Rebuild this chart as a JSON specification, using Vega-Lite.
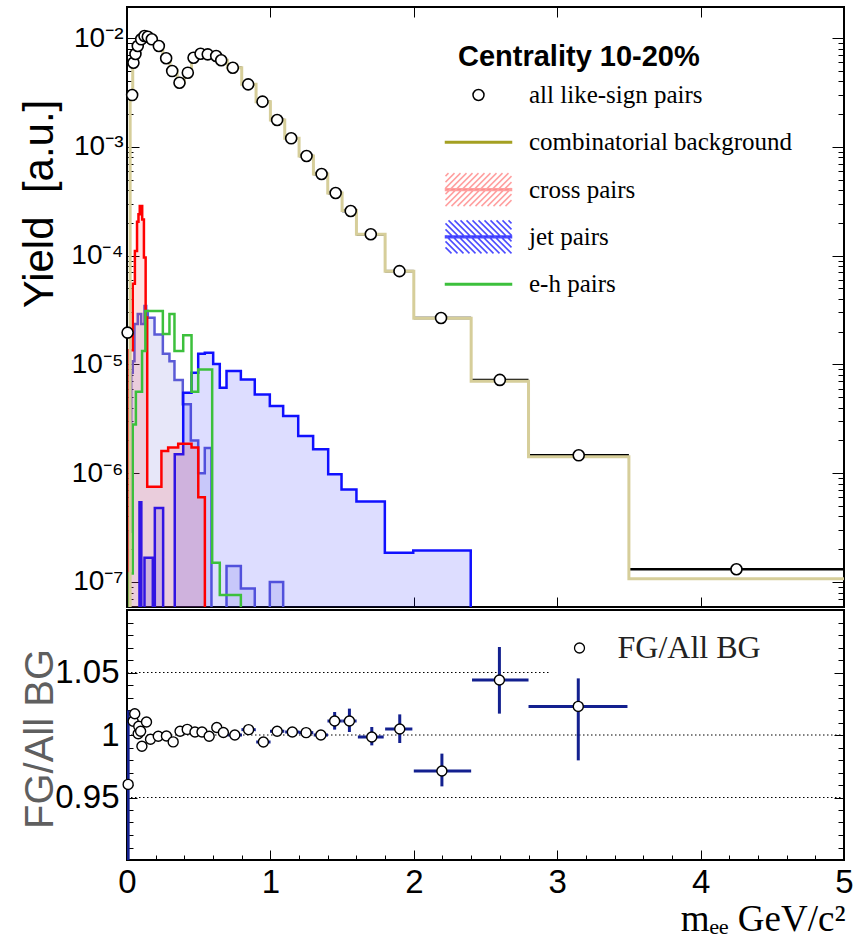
{
  "$schema": "https://vega.github.io/schema/vega-lite/v6.json",
  "padding": {"left": 17, "top": 5, "right": 12, "bottom": 0},
  "spacing": 3,
  "bounds": "flush",
  "config": {
    "font": "Liberation Sans",
    "view": {"stroke": "black", "strokeWidth": 2},
    "axis": {"domain": false, "grid": false, "tickColor": "black", "tickWidth": 1, "labelColor": "black", "titleColor": "black", "labelFont": "Liberation Sans", "titleFont": "Liberation Sans", "titleFontWeight": "normal", "labelOverlap": false, "labelFlush": false, "labelBound": false}
  },
  "resolve": {"scale": {"stroke": "independent", "fill": "independent", "shape": "independent"}, "legend": {"stroke": "independent", "fill": "independent", "shape": "independent"}},
  "datasets": {
    "pts": [
      {"m": 0.004, "lo": 0.0, "hi": 0.01, "v": 1.96e-5, "series": "all like-sign pairs"},
      {"m": 0.036, "lo": 0.022, "hi": 0.04, "v": 2.99e-3, "series": "all like-sign pairs"},
      {"m": 0.045, "lo": 0.04, "hi": 0.052, "v": 5.93e-3, "series": "all like-sign pairs"},
      {"m": 0.059, "lo": 0.052, "hi": 0.066, "v": 7.13e-3, "series": "all like-sign pairs"},
      {"m": 0.075, "lo": 0.066, "hi": 0.085, "v": 8.44e-3, "series": "all like-sign pairs"},
      {"m": 0.099, "lo": 0.085, "hi": 0.11, "v": 9.73e-3, "series": "all like-sign pairs"},
      {"m": 0.122, "lo": 0.11, "hi": 0.135, "v": 1.043e-2, "series": "all like-sign pairs"},
      {"m": 0.145, "lo": 0.135, "hi": 0.16, "v": 1.028e-2, "series": "all like-sign pairs"},
      {"m": 0.173, "lo": 0.16, "hi": 0.2, "v": 9.73e-3, "series": "all like-sign pairs"},
      {"m": 0.222, "lo": 0.2, "hi": 0.25, "v": 8.44e-3, "series": "all like-sign pairs"},
      {"m": 0.273, "lo": 0.25, "hi": 0.3, "v": 6.51e-3, "series": "all like-sign pairs"},
      {"m": 0.315, "lo": 0.3, "hi": 0.35, "v": 4.97e-3, "series": "all like-sign pairs"},
      {"m": 0.366, "lo": 0.35, "hi": 0.4, "v": 3.88e-3, "series": "all like-sign pairs"},
      {"m": 0.424, "lo": 0.4, "hi": 0.45, "v": 4.80e-3, "series": "all like-sign pairs"},
      {"m": 0.464, "lo": 0.45, "hi": 0.5, "v": 6.59e-3, "series": "all like-sign pairs"},
      {"m": 0.513, "lo": 0.5, "hi": 0.55, "v": 7.17e-3, "series": "all like-sign pairs"},
      {"m": 0.563, "lo": 0.55, "hi": 0.6, "v": 7.08e-3, "series": "all like-sign pairs"},
      {"m": 0.622, "lo": 0.6, "hi": 0.65, "v": 6.83e-3, "series": "all like-sign pairs"},
      {"m": 0.657, "lo": 0.65, "hi": 0.7, "v": 6.24e-3, "series": "all like-sign pairs"},
      {"m": 0.738, "lo": 0.7, "hi": 0.8, "v": 5.33e-3, "series": "all like-sign pairs"},
      {"m": 0.845, "lo": 0.8, "hi": 0.9, "v": 3.75e-3, "series": "all like-sign pairs"},
      {"m": 0.945, "lo": 0.9, "hi": 1.0, "v": 2.60e-3, "series": "all like-sign pairs"},
      {"m": 1.047, "lo": 1.0, "hi": 1.1, "v": 1.763e-3, "series": "all like-sign pairs"},
      {"m": 1.145, "lo": 1.1, "hi": 1.2, "v": 1.197e-3, "series": "all like-sign pairs"},
      {"m": 1.252, "lo": 1.2, "hi": 1.3, "v": 8.23e-4, "series": "all like-sign pairs"},
      {"m": 1.357, "lo": 1.3, "hi": 1.4, "v": 5.62e-4, "series": "all like-sign pairs"},
      {"m": 1.455, "lo": 1.4, "hi": 1.5, "v": 3.76e-4, "series": "all like-sign pairs"},
      {"m": 1.56, "lo": 1.5, "hi": 1.6, "v": 2.57e-4, "series": "all like-sign pairs"},
      {"m": 1.70, "lo": 1.6, "hi": 1.8, "v": 1.57e-4, "series": "all like-sign pairs"},
      {"m": 1.90, "lo": 1.8, "hi": 2.0, "v": 7.2e-5, "series": "all like-sign pairs"},
      {"m": 2.19, "lo": 2.0, "hi": 2.4, "v": 2.67e-5, "series": "all like-sign pairs"},
      {"m": 2.60, "lo": 2.4, "hi": 2.8, "v": 7.2e-6, "series": "all like-sign pairs"},
      {"m": 3.15, "lo": 2.8, "hi": 3.5, "v": 1.46e-6, "series": "all like-sign pairs"},
      {"m": 4.25, "lo": 3.5, "hi": 5.0, "v": 1.31e-7, "series": "all like-sign pairs"}
    ],
    "bg": [
      {"m": 0.0, "v": 1e-9}, {"m": 0.022, "v": 2.99e-3}, {"m": 0.04, "v": 5.93e-3}, {"m": 0.052, "v": 7.13e-3},
      {"m": 0.066, "v": 8.44e-3}, {"m": 0.085, "v": 9.73e-3}, {"m": 0.11, "v": 1.043e-2}, {"m": 0.135, "v": 1.028e-2},
      {"m": 0.16, "v": 9.73e-3}, {"m": 0.2, "v": 8.44e-3}, {"m": 0.25, "v": 6.51e-3}, {"m": 0.3, "v": 4.97e-3},
      {"m": 0.35, "v": 3.88e-3}, {"m": 0.4, "v": 4.80e-3}, {"m": 0.45, "v": 6.59e-3}, {"m": 0.5, "v": 7.17e-3},
      {"m": 0.55, "v": 7.08e-3}, {"m": 0.6, "v": 6.83e-3}, {"m": 0.65, "v": 6.24e-3}, {"m": 0.7, "v": 5.33e-3},
      {"m": 0.8, "v": 3.75e-3}, {"m": 0.9, "v": 2.6e-3}, {"m": 1.0, "v": 1.763e-3}, {"m": 1.1, "v": 1.197e-3},
      {"m": 1.2, "v": 8.23e-4}, {"m": 1.3, "v": 5.62e-4}, {"m": 1.4, "v": 3.76e-4}, {"m": 1.5, "v": 2.6e-4},
      {"m": 1.6, "v": 1.57e-4}, {"m": 1.8, "v": 7.2e-5}, {"m": 2.0, "v": 2.65e-5}, {"m": 2.4, "v": 7.0e-6},
      {"m": 2.8, "v": 1.42e-6}, {"m": 3.5, "v": 1.07e-7}, {"m": 5.0, "v": 1.07e-7}
    ],
    "cross": [
      {"m": 0.0, "v": 1e-9}, {"m": 0.017, "v": 1.35e-5}, {"m": 0.04, "v": 5.5e-5}, {"m": 0.055, "v": 1.1e-4},
      {"m": 0.07, "v": 2.05e-4}, {"m": 0.08, "v": 2.4e-4}, {"m": 0.089, "v": 2.85e-4}, {"m": 0.106, "v": 2.15e-4},
      {"m": 0.118, "v": 9.6e-5}, {"m": 0.13, "v": 2.7e-5}, {"m": 0.141, "v": 7.5e-7}, {"m": 0.24, "v": 1.6e-6},
      {"m": 0.287, "v": 1.72e-6}, {"m": 0.357, "v": 1.86e-6}, {"m": 0.45, "v": 1.72e-6}, {"m": 0.497, "v": 6.0e-7},
      {"m": 0.543, "v": 1e-9}, {"m": 0.6, "v": 1e-9}
    ],
    "jetA": [
      {"m": 0.0, "v": 1e-9}, {"m": 0.017, "v": 2.9e-7}, {"m": 0.029, "v": 8.4e-6}, {"m": 0.04, "v": 1.07e-5},
      {"m": 0.052, "v": 2.35e-5}, {"m": 0.075, "v": 2.9e-5}, {"m": 0.099, "v": 2.35e-5}, {"m": 0.122, "v": 3.44e-5},
      {"m": 0.134, "v": 3.1e-5}, {"m": 0.145, "v": 2.69e-5}, {"m": 0.192, "v": 1.88e-5}, {"m": 0.25, "v": 1.25e-5},
      {"m": 0.296, "v": 1.07e-5}, {"m": 0.331, "v": 7.2e-6}, {"m": 0.389, "v": 4.3e-6}, {"m": 0.445, "v": 2.0e-6},
      {"m": 0.4965, "v": 1.0e-6}, {"m": 0.5425, "v": 1.7e-6}, {"m": 0.589, "v": 1e-9}, {"m": 0.694, "v": 1.4e-7},
      {"m": 0.794, "v": 8.7e-8}, {"m": 0.891, "v": 1e-9}, {"m": 0.996, "v": 1.0e-7}, {"m": 1.089, "v": 1e-9},
      {"m": 1.2, "v": 1e-9}
    ],
    "jetB": [
      {"m": 0.0, "v": 1e-9}, {"m": 0.087, "v": 5.4e-7}, {"m": 0.1, "v": 1e-9}, {"m": 0.122, "v": 1.67e-7},
      {"m": 0.18, "v": 1e-9}, {"m": 0.194, "v": 4.8e-7}, {"m": 0.252, "v": 1e-9}, {"m": 0.333, "v": 1.49e-6},
      {"m": 0.392, "v": 5.5e-6}, {"m": 0.45, "v": 8.4e-6}, {"m": 0.4965, "v": 1.25e-5}, {"m": 0.5425, "v": 1.28e-5},
      {"m": 0.601, "v": 1.01e-5}, {"m": 0.647, "v": 6.1e-6}, {"m": 0.694, "v": 8.7e-6}, {"m": 0.794, "v": 7.25e-6},
      {"m": 0.891, "v": 5.3e-6}, {"m": 0.996, "v": 4.15e-6}, {"m": 1.089, "v": 3.36e-6}, {"m": 1.194, "v": 2.2e-6},
      {"m": 1.298, "v": 1.66e-6}, {"m": 1.403, "v": 9.8e-7}, {"m": 1.496, "v": 7.1e-7}, {"m": 1.6, "v": 5.5e-7},
      {"m": 1.798, "v": 1.86e-7}, {"m": 1.996, "v": 1.95e-7}, {"m": 2.397, "v": 1e-9}, {"m": 2.5, "v": 1e-9}
    ],
    "eh": [
      {"m": 0.0, "v": 1e-9}, {"m": 0.017, "v": 1.2e-7}, {"m": 0.04, "v": 2.8e-6}, {"m": 0.062, "v": 5.6e-6},
      {"m": 0.105, "v": 1.33e-5}, {"m": 0.128, "v": 3.1e-5}, {"m": 0.25, "v": 1.9e-5}, {"m": 0.296, "v": 2.9e-5},
      {"m": 0.331, "v": 1.33e-5}, {"m": 0.392, "v": 1.85e-5}, {"m": 0.45, "v": 5.6e-6}, {"m": 0.4965, "v": 9.0e-6},
      {"m": 0.594, "v": 1.5e-7}, {"m": 0.647, "v": 7.6e-8}, {"m": 0.794, "v": 1e-9}, {"m": 0.85, "v": 1e-9}
    ],
    "ratio": [
      {"m": 0.008, "lo": 0.0, "hi": 0.016, "r": 0.9605, "rl": 0.85, "rh": 1.0197, "series": "FG/All BG"},
      {"m": 0.043, "lo": 0.037, "hi": 0.049, "r": 1.011, "rl": 1.008, "rh": 1.014, "series": "FG/All BG"},
      {"m": 0.054, "lo": 0.048, "hi": 0.06, "r": 1.017, "rl": 1.013, "rh": 1.021, "series": "FG/All BG"},
      {"m": 0.078, "lo": 0.072, "hi": 0.084, "r": 1.001, "rl": 0.999, "rh": 1.003, "series": "FG/All BG"},
      {"m": 0.082, "lo": 0.076, "hi": 0.088, "r": 1.007, "rl": 1.005, "rh": 1.009, "series": "FG/All BG"},
      {"m": 0.095, "lo": 0.089, "hi": 0.101, "r": 1.003, "rl": 1.001, "rh": 1.005, "series": "FG/All BG"},
      {"m": 0.104, "lo": 0.098, "hi": 0.11, "r": 0.991, "rl": 0.989, "rh": 0.993, "series": "FG/All BG"},
      {"m": 0.136, "lo": 0.125, "hi": 0.147, "r": 1.0104, "rl": 1.008, "rh": 1.013, "series": "FG/All BG"},
      {"m": 0.164, "lo": 0.15, "hi": 0.178, "r": 0.9966, "rl": 0.9945, "rh": 0.9987, "series": "FG/All BG"},
      {"m": 0.218, "lo": 0.195, "hi": 0.241, "r": 0.999, "rl": 0.997, "rh": 1.001, "series": "FG/All BG"},
      {"m": 0.275, "lo": 0.25, "hi": 0.3, "r": 0.9992, "rl": 0.997, "rh": 1.0014, "series": "FG/All BG"},
      {"m": 0.322, "lo": 0.297, "hi": 0.347, "r": 0.9945, "rl": 0.9925, "rh": 0.9965, "series": "FG/All BG"},
      {"m": 0.37, "lo": 0.345, "hi": 0.395, "r": 1.003, "rl": 1.001, "rh": 1.005, "series": "FG/All BG"},
      {"m": 0.42, "lo": 0.395, "hi": 0.445, "r": 1.0045, "rl": 1.0025, "rh": 1.0065, "series": "FG/All BG"},
      {"m": 0.474, "lo": 0.449, "hi": 0.499, "r": 1.0024, "rl": 1.0004, "rh": 1.0044, "series": "FG/All BG"},
      {"m": 0.523, "lo": 0.498, "hi": 0.548, "r": 1.0024, "rl": 1.0004, "rh": 1.0044, "series": "FG/All BG"},
      {"m": 0.573, "lo": 0.548, "hi": 0.598, "r": 0.999, "rl": 0.997, "rh": 1.001, "series": "FG/All BG"},
      {"m": 0.626, "lo": 0.601, "hi": 0.651, "r": 1.006, "rl": 1.004, "rh": 1.008, "series": "FG/All BG"},
      {"m": 0.672, "lo": 0.647, "hi": 0.697, "r": 1.002, "rl": 1.0, "rh": 1.004, "series": "FG/All BG"},
      {"m": 0.752, "lo": 0.702, "hi": 0.802, "r": 1.0, "rl": 0.9975, "rh": 1.0025, "series": "FG/All BG"},
      {"m": 0.848, "lo": 0.798, "hi": 0.898, "r": 1.0043, "rl": 1.0018, "rh": 1.0068, "series": "FG/All BG"},
      {"m": 0.951, "lo": 0.901, "hi": 1.001, "r": 0.9944, "rl": 0.9915, "rh": 0.9973, "series": "FG/All BG"},
      {"m": 1.047, "lo": 0.997, "hi": 1.097, "r": 1.003, "rl": 1.0, "rh": 1.006, "series": "FG/All BG"},
      {"m": 1.153, "lo": 1.103, "hi": 1.203, "r": 1.0024, "rl": 0.9994, "rh": 1.0054, "series": "FG/All BG"},
      {"m": 1.249, "lo": 1.199, "hi": 1.299, "r": 1.0019, "rl": 0.9985, "rh": 1.0053, "series": "FG/All BG"},
      {"m": 1.352, "lo": 1.302, "hi": 1.402, "r": 1.0, "rl": 0.9962, "rh": 1.0038, "series": "FG/All BG"},
      {"m": 1.448, "lo": 1.398, "hi": 1.498, "r": 1.0112, "rl": 1.0043, "rh": 1.0184, "series": "FG/All BG"},
      {"m": 1.551, "lo": 1.501, "hi": 1.601, "r": 1.0112, "rl": 1.0024, "rh": 1.0211, "series": "FG/All BG"},
      {"m": 1.707, "lo": 1.61, "hi": 1.79, "r": 0.9984, "rl": 0.9917, "rh": 1.0064, "series": "FG/All BG"},
      {"m": 1.902, "lo": 1.8, "hi": 1.99, "r": 1.0048, "rl": 0.9936, "rh": 1.0165, "series": "FG/All BG"},
      {"m": 2.196, "lo": 2.0, "hi": 2.4, "r": 0.9712, "rl": 0.9589, "rh": 0.9851, "series": "FG/All BG"},
      {"m": 2.597, "lo": 2.406, "hi": 2.8, "r": 1.044, "rl": 1.0171, "rh": 1.0704, "series": "FG/All BG"},
      {"m": 3.147, "lo": 2.8, "hi": 3.49, "r": 1.0229, "rl": 0.9797, "rh": 1.0453, "series": "FG/All BG"}
    ],
    "grid": [
      {"g": 1.05, "a": 0, "b": 2.95},
      {"g": 1.0, "a": 0, "b": 5},
      {"g": 0.95, "a": 0, "b": 5}
    ]
  },
  "vconcat": [
    {
      "width": 717,
      "height": 600,
      "resolve": {"axis": {"x": "independent", "y": "independent"}},
      "layer": [
        {
          "data": {"name": "jetA"},
          "mark": {"type": "area", "interpolate": "step-after", "clip": true, "fill": "#5b5bd6", "fillOpacity": 0.15, "stroke": "#5b5bd6", "strokeWidth": 2.5},
          "encoding": {
            "x": {"field": "m", "type": "quantitative", "scale": {"domain": [0, 5], "nice": false, "zero": false}, "axis": null},
            "y": {"field": "v", "type": "quantitative", "scale": {"type": "log", "domain": [5.89e-8, 0.01928], "nice": false}, "axis": null},
            "y2": {"datum": 1e-10}
          }
        },
        {
          "data": {"name": "jetB"},
          "mark": {"type": "area", "interpolate": "step-after", "clip": true, "fill": "#1a1aff", "fillOpacity": 0.15, "stroke": "#1010ff", "strokeWidth": 2.5},
          "encoding": {
            "x": {"field": "m", "type": "quantitative", "scale": {"domain": [0, 5], "nice": false, "zero": false}, "axis": null},
            "y": {"field": "v", "type": "quantitative", "scale": {"type": "log", "domain": [5.89e-8, 0.01928], "nice": false}, "axis": null},
            "y2": {"datum": 1e-10}
          }
        },
        {
          "data": {"name": "cross"},
          "mark": {"type": "area", "interpolate": "step-after", "clip": true, "fill": "#ff3030", "fillOpacity": 0.14, "stroke": "#ff0000", "strokeWidth": 2.5},
          "encoding": {
            "x": {"field": "m", "type": "quantitative", "scale": {"domain": [0, 5], "nice": false, "zero": false}, "axis": null},
            "y": {"field": "v", "type": "quantitative", "scale": {"type": "log", "domain": [5.89e-8, 0.01928], "nice": false}, "axis": null},
            "y2": {"datum": 1e-10}
          }
        },
        {
          "data": {"name": "eh"},
          "mark": {"type": "line", "interpolate": "step-after", "clip": true, "color": "#3cc03c", "strokeWidth": 2.5},
          "encoding": {
            "x": {"field": "m", "type": "quantitative", "scale": {"domain": [0, 5], "nice": false, "zero": false}, "axis": null},
            "y": {"field": "v", "type": "quantitative", "scale": {"type": "log", "domain": [5.89e-8, 0.01928], "nice": false}, "axis": null}
          }
        },
        {
          "data": {"name": "pts"},
          "mark": {"type": "rule", "clip": true, "color": "black", "strokeWidth": 2.5},
          "encoding": {
            "x": {"field": "lo", "type": "quantitative", "scale": {"domain": [0, 5], "nice": false, "zero": false}, "axis": null},
            "x2": {"field": "hi"},
            "y": {"field": "v", "type": "quantitative", "scale": {"type": "log", "domain": [5.89e-8, 0.01928], "nice": false}, "axis": null}
          }
        },
        {
          "data": {"name": "bg"},
          "mark": {"type": "line", "interpolate": "step-after", "clip": true, "color": "#d6ce9a", "strokeWidth": 3},
          "encoding": {
            "x": {"field": "m", "type": "quantitative", "scale": {"domain": [0, 5], "nice": false, "zero": false},
              "axis": {"orient": "top", "values": [0, 1, 2, 3, 4, 5], "labels": false, "tickSize": -10, "title": null}},
            "y": {"field": "v", "type": "quantitative", "scale": {"type": "log", "domain": [5.89e-8, 0.01928], "nice": false},
              "axis": {"orient": "right", "labels": false, "title": null,
                "values": [6e-8, 7e-8, 8e-8, 9e-8, 1e-7, 2e-7, 3e-7, 4e-7, 5e-7, 6e-7, 7e-7, 8e-7, 9e-7, 1e-6, 2e-6, 3e-6, 4e-6, 5e-6, 6e-6, 7e-6, 8e-6, 9e-6, 1e-5, 2e-5, 3e-5, 4e-5, 5e-5, 6e-5, 7e-5, 8e-5, 9e-5, 1e-4, 2e-4, 3e-4, 4e-4, 5e-4, 6e-4, 7e-4, 8e-4, 9e-4, 1e-3, 2e-3, 3e-3, 4e-3, 5e-3, 6e-3, 7e-3, 8e-3, 9e-3, 1e-2],
                "tickSize": {"condition": {"test": "abs(log(datum.value)/LN10 - round(log(datum.value)/LN10)) < 1e-6", "value": -12}, "value": -6}}}
          }
        },
        {
          "data": {"name": "pts"},
          "mark": {"type": "point", "shape": "circle", "filled": true, "fill": "white", "stroke": "black", "size": 121, "strokeWidth": 1.6, "opacity": 1},
          "encoding": {
            "x": {"field": "m", "type": "quantitative", "scale": {"domain": [0, 5], "nice": false, "zero": false},
              "axis": {"orient": "bottom", "values": [0, 1, 2, 3, 4, 5], "labels": false, "tickSize": -10, "title": null}},
            "y": {"field": "v", "type": "quantitative", "scale": {"type": "log", "domain": [5.89e-8, 0.01928], "nice": false},
              "axis": {"orient": "left",
                "values": [6e-8, 7e-8, 8e-8, 9e-8, 1e-7, 2e-7, 3e-7, 4e-7, 5e-7, 6e-7, 7e-7, 8e-7, 9e-7, 1e-6, 2e-6, 3e-6, 4e-6, 5e-6, 6e-6, 7e-6, 8e-6, 9e-6, 1e-5, 2e-5, 3e-5, 4e-5, 5e-5, 6e-5, 7e-5, 8e-5, 9e-5, 1e-4, 2e-4, 3e-4, 4e-4, 5e-4, 6e-4, 7e-4, 8e-4, 9e-4, 1e-3, 2e-3, 3e-3, 4e-3, 5e-3, 6e-3, 7e-3, 8e-3, 9e-3, 1e-2],
                "labelExpr": "abs(log(datum.value)/LN10 - round(log(datum.value)/LN10)) < 1e-6 ? '10⁻' + ['⁰','¹','²','³','⁴','⁵','⁶','⁷','⁸','⁹'][-round(log(datum.value)/LN10)] : ''",
                "labelFontSize": 28, "labelPadding": 16, "labelAlign": "right", "labelBaseline": "middle",
                "tickSize": {"condition": {"test": "abs(log(datum.value)/LN10 - round(log(datum.value)/LN10)) < 1e-6", "value": -12}, "value": -6},
                "title": "Yield\u00a0 [a.u.]", "titleFontSize": 42, "titleAngle": 270, "titleX": -88, "titleY": 196.5, "titleAlign": "center", "titleBaseline": "middle"}}
          }
        },
        {
          "data": {"name": "pts"},
          "transform": [{"filter": "false"}],
          "mark": {"type": "point", "filled": true, "opacity": 1},
          "encoding": {
            "x": {"field": "m", "type": "quantitative", "scale": {"domain": [0, 5], "nice": false, "zero": false}, "axis": null},
            "y": {"field": "v", "type": "quantitative", "scale": {"type": "log", "domain": [5.89e-8, 0.01928], "nice": false}, "axis": null},
            "fill": {"field": "series", "type": "nominal",
              "scale": {"domain": ["all like-sign pairs", "combinatorial background", "cross pairs", "jet pairs", "e-h pairs"], "range": ["white", "#a4a022", "#ff5a5a", "#0000ff", "#3cc03c"]},
              "legend": {
                "orient": "none", "legendX": 331, "legendY": 36,
                "title": "Centrality 10-20%", "titleFont": "Liberation Sans", "titleFontSize": 29, "titleFontWeight": "bold", "titleColor": "black", "titlePadding": 7, "titleLimit": 500,
                "labelFont": "Liberation Serif", "labelFontSize": 25, "labelColor": "black", "labelOffset": 39, "labelLimit": 400,
                "symbolSize": 900, "symbolStrokeWidth": 1.5, "symbolOpacity": 1, "rowPadding": 7.3, "padding": 0}},
            "stroke": {"field": "series", "type": "nominal",
              "scale": {"domain": ["all like-sign pairs", "combinatorial background", "cross pairs", "jet pairs", "e-h pairs"], "range": ["black", "#a4a022", "#ffa0a0", "#4b4bff", "#3cc03c"]},
              "legend": {
                "orient": "none", "legendX": 331, "legendY": 36,
                "title": "Centrality 10-20%", "titleFont": "Liberation Sans", "titleFontSize": 29, "titleFontWeight": "bold", "titleColor": "black", "titlePadding": 7, "titleLimit": 500,
                "labelFont": "Liberation Serif", "labelFontSize": 25, "labelColor": "black", "labelOffset": 39, "labelLimit": 400,
                "symbolSize": 900, "symbolStrokeWidth": 1.5, "symbolOpacity": 1, "rowPadding": 7.3, "padding": 0}},
            "shape": {"field": "series", "type": "nominal",
              "scale": {"domain": ["all like-sign pairs", "combinatorial background", "cross pairs", "jet pairs", "e-h pairs"],
                "range": [
                  "M0.3,-1.1M0.3,1.1M-0.067,0A0.367,0.367,0,1,1,0.667,0A0.367,0.367,0,1,1,-0.067,0Z",
                  "M0.3,-1.1M0.3,1.1M-1.9,-0.05H2.5V0.05H-1.9Z",
                  "M-1.9,-0.9L-1.7,-1.1M-1.9,-0.5L-1.3,-1.1M-1.9,-0.1L-0.9,-1.1M-1.9,0.3L-0.5,-1.1M-1.9,0.7L-0.1,-1.1M-1.9,1.1L0.3,-1.1M-1.5,1.1L0.7,-1.1M-1.1,1.1L1.1,-1.1M-0.7,1.1L1.5,-1.1M-0.3,1.1L1.9,-1.1M0.1,1.1L2.3,-1.1M0.5,1.1L2.5,-0.9M0.9,1.1L2.5,-0.5M1.3,1.1L2.5,-0.1M1.7,1.1L2.5,0.3M2.1,1.1L2.5,0.7M-1.9,-0.06H2.5V0.06H-1.9Z",
                  "M2.5,-0.9L2.3,-1.1M2.5,-0.5L1.9,-1.1M2.5,-0.1L1.5,-1.1M2.5,0.3L1.1,-1.1M2.5,0.7L0.7,-1.1M2.5,1.1L0.3,-1.1M2.1,1.1L-0.1,-1.1M1.7,1.1L-0.5,-1.1M1.3,1.1L-0.9,-1.1M0.9,1.1L-1.3,-1.1M0.5,1.1L-1.7,-1.1M0.1,1.1L-1.9,-0.9M-0.3,1.1L-1.9,-0.5M-0.7,1.1L-1.9,-0.1M-1.1,1.1L-1.9,0.3M-1.5,1.1L-1.9,0.7M-1.9,-0.06H2.5V0.06H-1.9Z",
                  "M0.3,-1.1M0.3,1.1M-1.9,-0.05H2.5V0.05H-1.9Z"
                ]},
              "legend": {
                "orient": "none", "legendX": 331, "legendY": 36,
                "title": "Centrality 10-20%", "titleFont": "Liberation Sans", "titleFontSize": 29, "titleFontWeight": "bold", "titleColor": "black", "titlePadding": 7, "titleLimit": 500,
                "labelFont": "Liberation Serif", "labelFontSize": 25, "labelColor": "black", "labelOffset": 39, "labelLimit": 400,
                "symbolSize": 900, "symbolStrokeWidth": 1.5, "symbolOpacity": 1, "rowPadding": 7.3, "padding": 0}}
          }
        }
      ]
    },
    {
      "width": 717,
      "height": 250,
      "resolve": {"axis": {"x": "independent", "y": "independent"}},
      "layer": [
        {
          "data": {"name": "grid"},
          "mark": {"type": "rule", "color": "black", "strokeWidth": 1, "strokeDash": [1.5, 2.5]},
          "encoding": {
            "x": {"field": "a", "type": "quantitative", "scale": {"domain": [0, 5], "nice": false, "zero": false}, "axis": null},
            "x2": {"field": "b"},
            "y": {"field": "g", "type": "quantitative", "scale": {"domain": [0.9, 1.1], "nice": false, "zero": false}, "axis": null}
          }
        },
        {
          "data": {"name": "ratio"},
          "mark": {"type": "rule", "clip": true, "color": "#13208f", "strokeWidth": 3},
          "encoding": {
            "x": {"field": "m", "type": "quantitative", "scale": {"domain": [0, 5], "nice": false, "zero": false}, "axis": null},
            "y": {"field": "rl", "type": "quantitative", "scale": {"domain": [0.9, 1.1], "nice": false, "zero": false},
              "axis": {"orient": "right", "labels": false, "title": null,
                "values": [0.91, 0.92, 0.93, 0.94, 0.95, 0.96, 0.97, 0.98, 0.99, 1.0, 1.01, 1.02, 1.03, 1.04, 1.05, 1.06, 1.07, 1.08, 1.09],
                "tickSize": {"condition": {"test": "abs(datum.value-1)<1e-6 || abs(datum.value-0.95)<1e-6 || abs(datum.value-1.05)<1e-6", "value": -10}, "value": -6}}},
            "y2": {"field": "rh"}
          }
        },
        {
          "data": {"name": "ratio"},
          "mark": {"type": "rule", "clip": true, "color": "#13208f", "strokeWidth": 3},
          "encoding": {
            "x": {"field": "lo", "type": "quantitative", "scale": {"domain": [0, 5], "nice": false, "zero": false}, "axis": null},
            "x2": {"field": "hi"},
            "y": {"field": "r", "type": "quantitative", "scale": {"domain": [0.9, 1.1], "nice": false, "zero": false}, "axis": null}
          }
        },
        {
          "data": {"name": "ratio"},
          "mark": {"type": "point", "shape": "circle", "filled": true, "fill": "white", "size": 100, "strokeWidth": 1.4, "opacity": 1},
          "encoding": {
            "x": {"field": "m", "type": "quantitative", "scale": {"domain": [0, 5], "nice": false, "zero": false},
              "axis": {"orient": "bottom",
                "values": [0, 0.2, 0.4, 0.6, 0.8, 1, 1.2, 1.4, 1.6, 1.8, 2, 2.2, 2.4, 2.6, 2.8, 3, 3.2, 3.4, 3.6, 3.8, 4, 4.2, 4.4, 4.6, 4.8, 5],
                "labelExpr": "abs(datum.value - round(datum.value)) < 1e-6 ? format(datum.value, 'd') : ''",
                "labelFontSize": 33, "labelPadding": 16.6, "labelAlign": "center", "labelBaseline": "top",
                "tickSize": {"condition": {"test": "abs(datum.value - round(datum.value)) < 1e-6", "value": -10}, "value": -5},
                "title": "mₑₑ GeV/c²", "titleFont": "Liberation Serif", "titleFontSize": 37, "titleAnchor": "end", "titleAlign": "right", "titleBaseline": "alphabetic", "titleX": 718, "titleY": 70}},
            "y": {"field": "r", "type": "quantitative", "scale": {"domain": [0.9, 1.1], "nice": false, "zero": false},
              "axis": {"orient": "left",
                "values": [0.91, 0.92, 0.93, 0.94, 0.95, 0.96, 0.97, 0.98, 0.99, 1.0, 1.01, 1.02, 1.03, 1.04, 1.05, 1.06, 1.07, 1.08, 1.09],
                "labelExpr": "abs(datum.value-1)<1e-6 ? '1' : abs(datum.value-0.95)<1e-6 ? '0.95' : abs(datum.value-1.05)<1e-6 ? '1.05' : ''",
                "labelFontSize": 33, "labelPadding": 18, "labelAlign": "right", "labelBaseline": "middle",
                "tickSize": {"condition": {"test": "abs(datum.value-1)<1e-6 || abs(datum.value-0.95)<1e-6 || abs(datum.value-1.05)<1e-6", "value": -10}, "value": -6},
                "title": "FG/All BG", "titleFontSize": 40, "titleColor": "#5f5f5f", "titleAngle": 270, "titleX": -87, "titleY": 128.5, "titleAlign": "center", "titleBaseline": "middle"}},
            "stroke": {"field": "series", "type": "nominal",
              "scale": {"domain": ["FG/All BG"], "range": ["black"]},
              "legend": {
                "orient": "none", "legendX": 436.5, "legendY": 22, "title": null,
                "labelFont": "Liberation Serif", "labelFontSize": 32, "labelColor": "#222222", "labelOffset": 22, "labelLimit": 400,
                "symbolSize": 100, "symbolStrokeWidth": 1.3, "padding": 0}}
          }
        }
      ]
    }
  ]
}
